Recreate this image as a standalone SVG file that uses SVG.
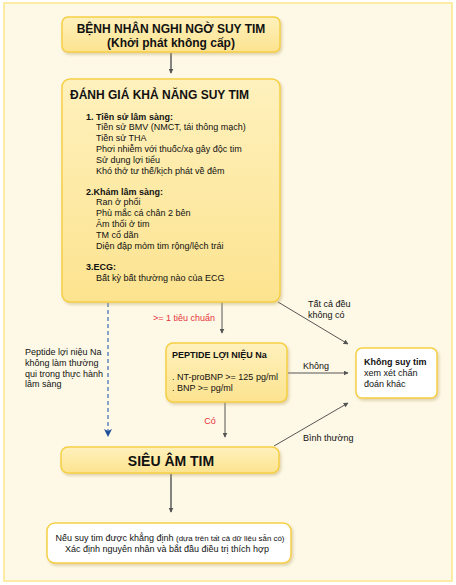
<svg xmlns="http://www.w3.org/2000/svg" width="456" height="585" viewBox="0 0 456 585">
<defs>
<linearGradient id="yg" x1="0" y1="0" x2="0" y2="1">
<stop offset="0" stop-color="#fff1bd"/>
<stop offset="1" stop-color="#fce38f"/>
</linearGradient>
<filter id="sh" x="-10%" y="-10%" width="125%" height="130%">
<feDropShadow dx="1.5" dy="2" stdDeviation="1.8" flood-color="#b8a060" flood-opacity="0.45"/>
</filter>
<marker id="ah" viewBox="0 0 8 8" refX="7" refY="4" markerWidth="5" markerHeight="5" orient="auto" markerUnits="userSpaceOnUse">
<path d="M0,0 L8,4 L0,8 z" fill="#555"/>
</marker>
<marker id="ahb" viewBox="0 0 8 8" refX="7" refY="4" markerWidth="8" markerHeight="8" orient="auto" markerUnits="userSpaceOnUse">
<path d="M0,0 L8,4 L0,8 L2,4 z" fill="#1f4f9a"/>
</marker>
</defs>
<style>
text{font-family:"Liberation Sans",Arial,sans-serif;fill:#111}
.y{fill:url(#yg);stroke:#f6cf45;stroke-width:1.5;filter:url(#sh)}
.w{fill:#fff;stroke:#f6cf45;stroke-width:1.5;filter:url(#sh)}
.t12{font-size:12px;font-weight:bold}
.s{font-size:9px}
.b{font-weight:bold}
.r{fill:#e8303a}
.c{fill:none;stroke:#555;stroke-width:1;marker-end:url(#ah)}
.ct{fill:none;stroke:#666;stroke-width:1.6;marker-end:url(#ah)}
</style>
<rect x="4" y="3" width="448" height="578" fill="#fef9e7" stroke="#fde68c" stroke-width="1.5"/>

<g id="connectors">
<line class="ct" x1="171" y1="53" x2="171" y2="73"/>
<line class="c" x1="222" y1="302" x2="222" y2="333"/>
<line class="c" x1="278" y1="302" x2="348" y2="344"/>
<line class="c" x1="288" y1="373" x2="348" y2="373"/>
<line class="c" x1="225" y1="402" x2="225" y2="437"/>
<line class="c" x1="274" y1="446" x2="348" y2="403"/>
<line class="ct" x1="171" y1="474" x2="171" y2="512"/>
<line x1="108" y1="303" x2="108" y2="436" stroke="#3a6ab0" stroke-width="1.2" stroke-dasharray="4,3" marker-end="url(#ahb)"/>
<text class="s r" x="184" y="321" text-anchor="middle">&gt;= 1 tiêu chuẩn</text>
<text class="s" x="308" y="307">Tất cả đều</text>
<text class="s" x="308" y="318">không có</text>
<text class="s" x="303" y="369">Không</text>
<text class="s r" x="210" y="424" text-anchor="middle">Có</text>
<text class="s" x="303" y="441">Bình thường</text>
<text class="s" x="25" y="355">Peptide lợi niệu Na</text>
<text class="s" x="25" y="366">không làm thường</text>
<text class="s" x="25" y="376.5">qui trong thực hành</text>
<text class="s" x="25" y="387">lâm sàng</text>
</g>

<g id="n1">
<rect class="y" x="62" y="17" width="218" height="35" rx="6"/>
<text class="t12" x="171" y="32.5" text-anchor="middle">BỆNH NHÂN NGHI NGỜ SUY TIM</text>
<text class="t12" x="171" y="47" text-anchor="middle">(Khởi phát không cấp)</text>
</g>

<g id="n2">
<rect class="y" x="62" y="79" width="218" height="223" rx="8"/>
<text class="t12" x="70" y="98.5">ĐÁNH GIÁ KHẢ NĂNG SUY TIM</text>
<text class="s b" x="86" y="119.5">1. Tiền sử lâm sàng:</text>
<text class="s" x="96" y="130.3">Tiền sử BMV (NMCT, tái thông mạch)</text>
<text class="s" x="96" y="141.1">Tiền sử THA</text>
<text class="s" x="96" y="151.9">Phơi nhiễm với thuốc/xạ gây độc tim</text>
<text class="s" x="96" y="162.7">Sử dụng lợi tiểu</text>
<text class="s" x="96" y="173.5">Khó thở tư thế/kịch phát về đêm</text>
<text class="s b" x="86" y="194.5">2.Khám lâm sàng:</text>
<text class="s" x="96" y="205.3">Ran ở phổi</text>
<text class="s" x="96" y="216.1">Phù mắc cá chân 2 bên</text>
<text class="s" x="96" y="226.9">Âm thổi ở tim</text>
<text class="s" x="96" y="237.7">TM cổ dãn</text>
<text class="s" x="96" y="248.5">Diện đập mỏm tim rộng/lệch trái</text>
<text class="s b" x="86" y="270">3.ECG:</text>
<text class="s" x="96" y="280.8">Bất kỳ bất thường nào của ECG</text>
</g>

<g id="n3">
<rect class="y" x="166" y="343" width="121" height="59" rx="7"/>
<text class="s b" x="172" y="358">PEPTIDE LỢI NIỆU Na</text>
<text class="s" x="172" y="380">. NT-proBNP &gt;= 125 pg/ml</text>
<text class="s" x="172" y="391">. BNP &gt;= pg/ml</text>
</g>

<g id="n4">
<rect class="w" x="356" y="348" width="81" height="50" rx="6"/>
<text class="s b" x="364" y="365">Không suy tim</text>
<text class="s" x="364" y="376">xem xét chẩn</text>
<text class="s" x="364" y="387">đoán khác</text>
</g>

<g id="n5">
<rect class="y" x="61" y="447" width="218" height="26" rx="7"/>
<text x="171" y="465.5" text-anchor="middle" font-size="14" font-weight="bold">SIÊU ÂM TIM</text>
</g>

<g id="n6">
<rect class="w" x="47" y="523" width="244" height="40" rx="8"/>
<text x="170" y="541" text-anchor="middle" font-size="9">Nếu suy tim được khẳng định <tspan font-size="7.9">(dựa trên tất cả dữ liệu sẵn có)</tspan></text>
<text x="167" y="551.5" text-anchor="middle" font-size="9">Xác định nguyên nhân và bắt đầu điều trị thích hợp</text>
</g>
</svg>
